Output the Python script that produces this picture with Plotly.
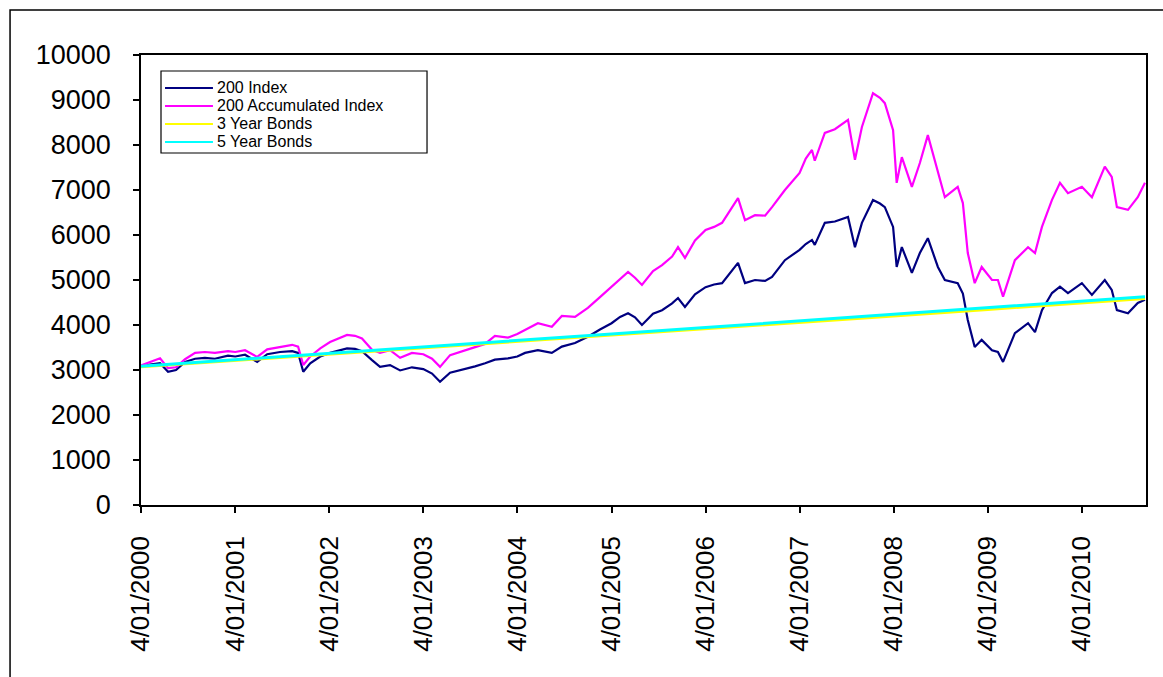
import plotly.graph_objects as go

# Observation dates for the two equity series
dates = [
    "2000-01-04", "2000-02-08", "2000-03-18", "2000-04-18", "2000-05-19", "2000-06-23",
    "2000-08-01", "2000-09-08", "2000-10-17", "2000-12-07", "2001-01-04", "2001-02-11",
    "2001-03-30", "2001-05-08", "2001-06-27", "2001-08-13", "2001-09-05", "2001-09-25",
    "2001-10-22", "2001-11-30", "2002-01-07", "2002-02-15", "2002-03-14", "2002-04-14",
    "2002-05-11", "2002-06-19", "2002-07-20", "2002-08-28", "2002-10-06", "2002-11-21",
    "2003-01-04", "2003-02-07", "2003-03-10", "2003-04-18", "2003-06-03", "2003-07-24",
    "2003-09-01", "2003-10-09", "2003-11-29", "2004-01-04", "2004-02-03", "2004-03-24",
    "2004-05-17", "2004-06-25", "2004-08-15", "2004-10-04", "2004-11-20", "2005-01-04",
    "2005-02-06", "2005-03-09", "2005-04-05", "2005-05-02", "2005-06-14", "2005-07-19",
    "2005-08-27", "2005-09-19", "2005-10-16", "2005-11-24", "2006-01-04", "2006-02-06",
    "2006-03-09", "2006-04-09", "2006-05-10", "2006-06-06", "2006-07-15", "2006-08-23",
    "2006-09-19", "2006-11-08", "2007-01-04", "2007-01-28", "2007-02-21", "2007-03-04",
    "2007-04-12", "2007-05-21", "2007-07-11", "2007-08-07", "2007-09-03", "2007-10-16",
    "2007-11-12", "2007-12-01", "2008-01-02", "2008-01-16", "2008-02-05", "2008-03-15",
    "2008-04-15", "2008-05-16", "2008-06-24", "2008-07-21", "2008-09-09", "2008-09-29",
    "2008-10-18", "2008-11-14", "2008-12-11", "2009-01-20", "2009-02-12", "2009-03-04",
    "2009-04-19", "2009-06-09", "2009-07-06", "2009-08-02", "2009-09-10", "2009-10-11",
    "2009-11-11", "2010-01-04", "2010-02-12", "2010-04-03", "2010-04-30", "2010-05-20",
    "2010-07-02", "2010-08-09", "2010-09-06",
]

index_200 = [
    3070, 3120, 3150, 2960, 3000, 3180, 3250, 3270, 3250, 3320, 3300, 3340,
    3180, 3350, 3400, 3420, 3380, 2960, 3150, 3300, 3380, 3440, 3480, 3470,
    3420, 3220, 3070, 3110, 2990, 3060, 3020, 2920, 2740, 2940, 3000, 3080,
    3150, 3230, 3260, 3300, 3380, 3440, 3380, 3520, 3600, 3740, 3900, 4040,
    4180, 4260, 4170, 4000, 4250, 4330, 4480, 4600, 4400, 4680, 4840, 4900,
    4930, 5150, 5380, 4930, 5000, 4980, 5070, 5440, 5670, 5800, 5890, 5780,
    6270, 6300, 6400, 5730, 6270, 6780, 6700, 6620, 6180, 5290, 5730, 5160,
    5600, 5930, 5290, 5000, 4930, 4700, 4110, 3510, 3670, 3440, 3400, 3180,
    3820, 4040, 3840, 4330, 4710, 4850, 4710, 4930, 4670, 5000, 4780, 4330,
    4260, 4490, 4560,
]

accum_200 = [
    3100, 3180, 3260, 3040, 3060, 3240, 3380, 3400, 3380, 3420, 3400, 3440,
    3290, 3460, 3520, 3560, 3520, 3110, 3300, 3480, 3620, 3720, 3780, 3760,
    3700, 3450, 3380, 3440, 3270, 3380, 3350, 3250, 3070, 3330, 3420, 3520,
    3580, 3760, 3720, 3800, 3890, 4040, 3960, 4200, 4180, 4380, 4620, 4850,
    5030, 5180, 5050, 4890, 5200, 5330, 5520, 5730, 5490, 5880, 6110, 6180,
    6270, 6560, 6820, 6330, 6440, 6430, 6620, 7000, 7380, 7700, 7890, 7650,
    8270, 8350, 8560, 7670, 8400, 9150, 9050, 8930, 8330, 7160, 7730, 7070,
    7600, 8220, 7380, 6840, 7070, 6710, 5600, 4930, 5290, 5000, 5000, 4630,
    5440, 5730, 5600, 6180, 6780, 7160, 6930, 7070, 6840, 7520, 7290, 6620,
    6560, 6840, 7160,
]

# Bond accumulation series
bond_dates = [
    "2000-01-04", "2001-01-04", "2002-01-04", "2003-01-04", "2004-01-04", "2005-01-04",
    "2006-01-04", "2007-01-04", "2008-01-04", "2009-01-04", "2010-01-04", "2010-09-06",
]
bonds_3yr = [3070, 3210, 3350, 3490, 3630, 3770, 3910, 4055, 4200, 4345, 4490, 4590]
bonds_5yr = [3085, 3225, 3370, 3515, 3660, 3800, 3945, 4090, 4240, 4390, 4540, 4630]

series_names = ["200 Index", "200 Accumulated Index", "3 Year Bonds", "5 Year Bonds"]
series_colors = ["#000080", "#FF00FF", "#FFFF00", "#00FFFF"]

# Axis ticks
tick_dates = ["%d-01-04" % y for y in range(2000, 2011)]
tick_text = ["4/01/%d" % y for y in range(2000, 2011)]
y_ticks = list(range(0, 10001, 1000))
y_text = [str(v) for v in y_ticks]

FONT = "Liberation Sans, Arial, sans-serif"

fig = go.Figure()
fig.add_trace(go.Scatter(x=dates, y=index_200, mode="lines", name=series_names[0],
                         line=dict(color=series_colors[0], width=2.2)))
fig.add_trace(go.Scatter(x=dates, y=accum_200, mode="lines", name=series_names[1],
                         line=dict(color=series_colors[1], width=2.2)))
fig.add_trace(go.Scatter(x=bond_dates, y=bonds_3yr, mode="lines", name=series_names[2],
                         line=dict(color=series_colors[2], width=3)))
fig.add_trace(go.Scatter(x=bond_dates, y=bonds_5yr, mode="lines", name=series_names[3],
                         line=dict(color=series_colors[3], width=3)))

# Compact boxed key in the upper-left corner of the plot area
key_x0, key_x1 = 0.0199, 0.2846
key_y0, key_y1 = 0.7822, 0.9644
row_y = [0.9267, 0.8867, 0.8467, 0.8067]
shapes = [
    dict(type="rect", xref="paper", yref="paper",
         x0=-0.1303, x1=1.03, y0=-0.42, y1=1.1,
         line=dict(color="black", width=1.5), layer="below"),
    dict(type="rect", xref="paper", yref="paper",
         x0=key_x0, x1=key_x1, y0=key_y0, y1=key_y1,
         line=dict(color="black", width=1.2), fillcolor="white", layer="above"),
]
annotations = []
for name, color, ry in zip(series_names, series_colors, row_y):
    shapes.append(dict(type="line", xref="paper", yref="paper",
                       x0=0.0239, x1=0.0716, y0=ry, y1=ry,
                       line=dict(color=color, width=2), layer="above"))
    annotations.append(dict(xref="paper", yref="paper", x=0.0736, y=ry,
                            xanchor="left", yanchor="middle", showarrow=False,
                            text=name, font=dict(size=16, family=FONT, color="black")))

fig.update_layout(
    width=1163, height=677,
    margin=dict(l=141, r=17, t=55, b=172),
    paper_bgcolor="white", plot_bgcolor="white",
    font=dict(family=FONT, color="black"),
    showlegend=False,
    xaxis=dict(
        type="date", range=["2000-01-04", "2010-09-10"],
        tickmode="array", tickvals=tick_dates, ticktext=tick_text,
        tickangle=-90, tickfont=dict(size=26, family=FONT),
        ticks="outside", ticklen=6, tickcolor="black", tickwidth=1.5,
        showline=True, linecolor="black", linewidth=1.5, mirror=True,
        showgrid=False, zeroline=False, ticklabelstandoff=13,
    ),
    yaxis=dict(
        range=[0, 10000], tickmode="array", tickvals=y_ticks, ticktext=y_text,
        tickfont=dict(size=27, family=FONT),
        ticks="outside", ticklen=6, tickcolor="black", tickwidth=1.5,
        showline=True, linecolor="black", linewidth=1.5, mirror=True,
        showgrid=False, zeroline=False, ticklabelstandoff=17,
    ),
    shapes=shapes,
    annotations=annotations,
)

fig.write_html("out.html")
